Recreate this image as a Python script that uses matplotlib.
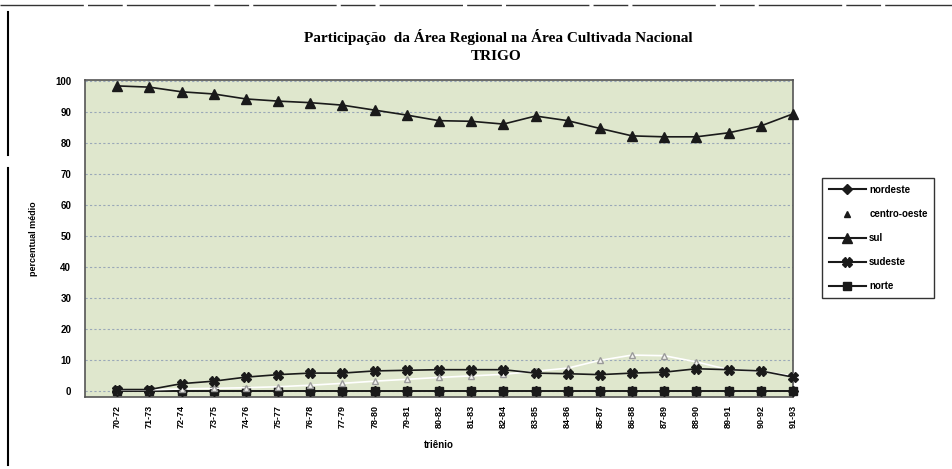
import matplotlib
matplotlib.use("Agg")
import matplotlib.pyplot as plt
from matplotlib.lines import Line2D
import numpy as np

trienios = ["70-72", "71-73", "72-74", "73-75", "74-76", "75-77", "76-78", "77-79",
            "78-80", "79-81", "80-82", "81-83", "82-84", "83-85", "84-86", "85-87",
            "86-88", "87-89", "88-90", "89-91", "90-92", "91-93"]
nordeste = [0, 0, 0, 0, 0, 0, 0, 0, 0, 0, 0, 0, 0, 0, 0, 0, 0, 0, 0, 0, 0, 0]
centro_oeste = [0.5, 0.5, 0.8, 1.0, 1.2, 1.5, 2.0, 2.6, 3.3, 3.9, 4.5, 5.0,
                5.5, 6.5, 7.5, 10.0, 11.7, 11.5, 9.5, 7.0, 6.5, 5.0]
sul = [98.4, 98.0, 96.5, 95.8, 94.2, 93.5, 93.0, 92.2, 90.6, 89.0, 87.2, 87.0,
       86.1, 88.7, 87.2, 84.7, 82.3, 82.0, 82.0, 83.3, 85.5, 89.4]
sudeste = [0.6, 0.6, 2.5, 3.3, 4.6, 5.4, 5.9, 5.9, 6.6, 6.8, 7.0, 7.0,
           7.0, 5.9, 5.7, 5.4, 5.9, 6.2, 7.3, 7.0, 6.6, 4.6]
norte = [0, 0, 0, 0, 0, 0, 0, 0, 0, 0, 0, 0, 0, 0, 0, 0, 0, 0, 0, 0, 0, 0]

W, H = 953, 469
fig = plt.figure(figsize=(W / 100, H / 100), dpi=100)
fig.patch.set_facecolor("white")

x0, x1 = 85, 793
y0, y1 = 80, 397
ax = fig.add_axes([x0 / W, 1 - y1 / H, (x1 - x0) / W, (y1 - y0) / H])
ax.set_facecolor("#dfe7cd")

x = np.arange(len(trienios))
dark = "#1a1a1a"
ax.plot(x, norte, color=dark, lw=1.2, marker="s", ms=6, mfc=dark, mec=dark,
        label="norte", clip_on=False, zorder=3)
ax.plot(x, nordeste, color=dark, lw=1.2, marker="D", ms=5, mfc=dark, mec=dark,
        label="nordeste", clip_on=False, zorder=3)
ax.plot(x, centro_oeste, color="white", lw=1.2, marker="^", ms=4, mfc="#f4f4f0",
        mec="#9a9a9a", label="centro-oeste", clip_on=False, zorder=3)
ax.plot(x, sul, color=dark, lw=1.2, marker="^", ms=7, mfc=dark, mec=dark,
        label="sul", clip_on=False, zorder=4)
ax.plot(x, sudeste, color=dark, lw=1.2, marker="X", ms=7, mfc=dark, mec=dark,
        label="sudeste", clip_on=False, zorder=4)

ax.set_xlim(-1, 21)
ax.set_ylim(-1.8, 100.3)
ax.set_yticks(np.arange(0, 101, 10))
ax.set_xticks(x)
ax.set_xticklabels(trienios, rotation=90, fontsize=6.5, fontweight="bold",
                   family="Liberation Sans")
for lab in ax.get_yticklabels():
    lab.set_fontsize(7)
    lab.set_fontweight("bold")
    lab.set_family("Liberation Sans")
ax.tick_params(axis="both", length=0, pad=10)
ax.tick_params(axis="x", pad=6)
ax.yaxis.grid(True, color="#9aa8b8", lw=0.8, ls=(0, (2, 2)))
ax.set_axisbelow(True)
for s in ax.spines.values():
    s.set_color("#555555")
    s.set_linewidth(1.2)

ax.set_xlabel("triênio", fontsize=7, fontweight="bold", family="Liberation Sans",
              labelpad=8)
ax.set_ylabel("percentual médio", fontsize=6.5, fontweight="bold",
              family="Liberation Sans", labelpad=12)

fig.text(498 / W, 1 - 37 / H, "Participação  da Área Regional na Área Cultivada Nacional",
         ha="center", va="center", fontsize=11, fontweight="bold", family="Liberation Serif")
fig.text(496 / W, 1 - 57 / H, "TRIGO", ha="center", va="center", fontsize=11,
         fontweight="bold", family="Liberation Serif")

handles = [
    Line2D([], [], color=dark, lw=1.5, marker="D", ms=5, mfc=dark, mec=dark),
    Line2D([], [], color="none", marker="^", ms=4, mfc=dark, mec=dark),
    Line2D([], [], color=dark, lw=1.5, marker="^", ms=7, mfc=dark, mec=dark),
    Line2D([], [], color=dark, lw=1.5, marker="X", ms=7, mfc=dark, mec=dark),
    Line2D([], [], color=dark, lw=1.5, marker="s", ms=6, mfc=dark, mec=dark),
]
labels = ["nordeste", "centro-oeste", "sul", "sudeste", "norte"]
leg = fig.legend(handles, labels, loc="upper left",
                 bbox_to_anchor=(822 / W, 1 - 178 / H), borderaxespad=0,
                 frameon=True, fancybox=False, edgecolor="black",
                 prop={"family": "Liberation Sans", "weight": "bold", "size": 7},
                 handlelength=3.8, labelspacing=1.45, borderpad=0.7,
                 handletextpad=0.35)
leg.get_frame().set_linewidth(1.0)

# page border decorations
fig.add_artist(Line2D([8 / W, 8 / W], [1 - 12 / H, 1 - 155 / H], color="black", lw=1.5))
fig.add_artist(Line2D([8 / W, 8 / W], [1 - 168 / H, 1 - 465 / H], color="black", lw=1.5))
fig.add_artist(Line2D([0, 1], [1 - 5 / H, 1 - 5 / H], color="#333333", lw=1.0,
                      ls=(0, (60, 3, 25, 3))))

fig.savefig("out.png", dpi=100, facecolor="white")
